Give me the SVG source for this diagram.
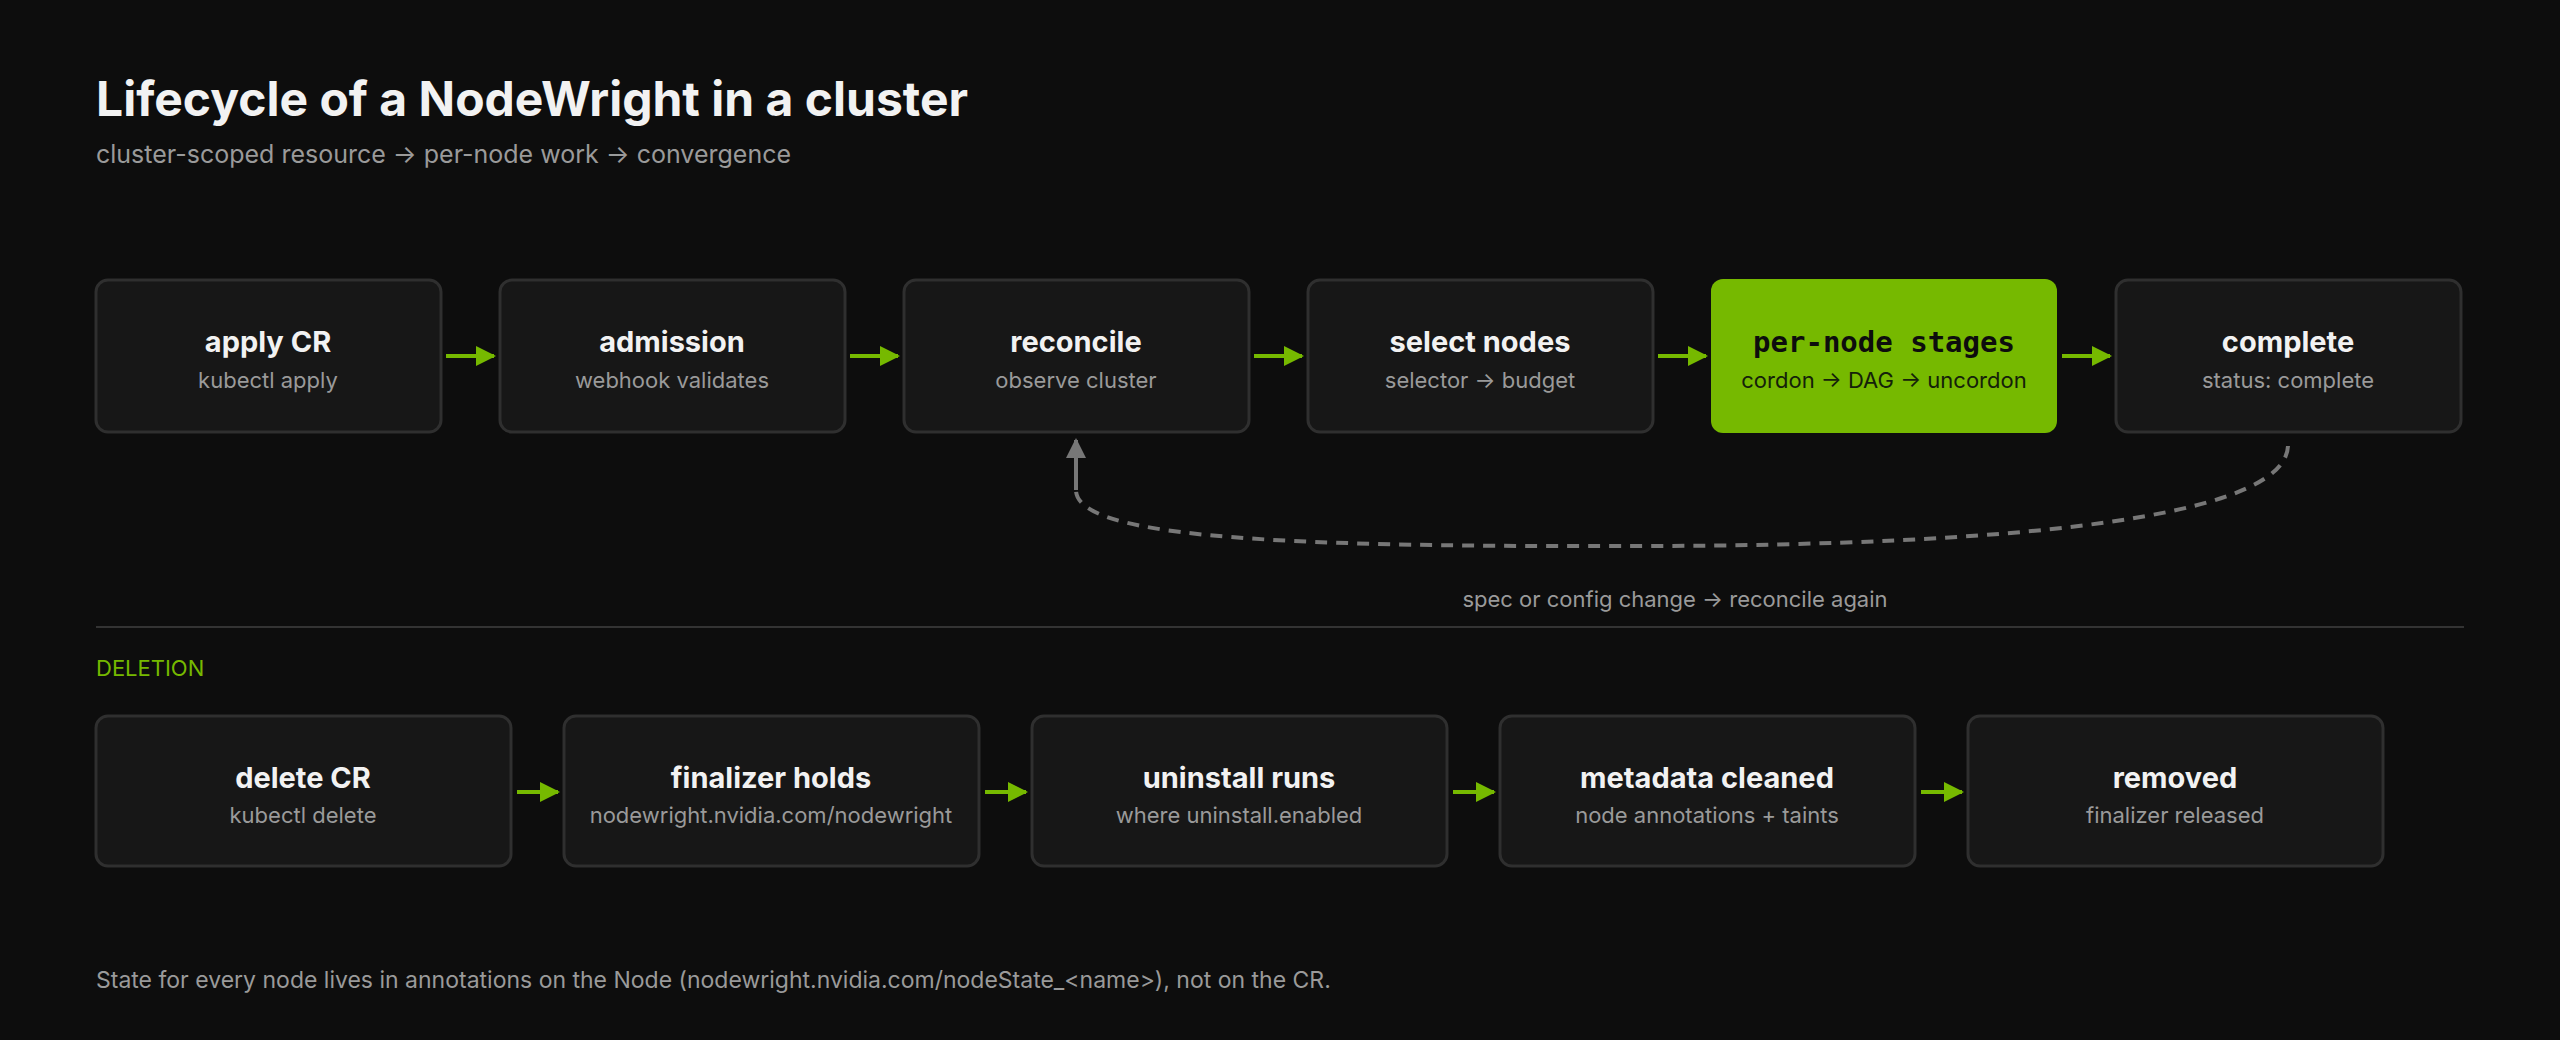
<svg xmlns="http://www.w3.org/2000/svg" width="2560" height="1040" viewBox="0 0 2560 1040">
<defs>
<style>
.box{fill:#171717;stroke:#2f2f2f;stroke-width:3}
.t{font-family:Inter,"Liberation Sans",sans-serif;font-weight:700;font-size:29px;fill:#f2f2f2;text-anchor:middle}
.s{font-family:Inter,"Liberation Sans",sans-serif;font-size:22px;fill:#9a9a9a;text-anchor:middle}
.arr{stroke:#76b900;stroke-width:4;fill:none;marker-end:url(#ga)}
</style>
<marker id="ga" viewBox="0 0 10 10" refX="9" refY="5" markerWidth="5" markerHeight="5" orient="auto" markerUnits="strokeWidth"><path d="M0,0L10,5L0,10z" fill="#76b900"/></marker>
<marker id="gr" viewBox="0 0 10 10" refX="9" refY="5" markerWidth="5" markerHeight="5" orient="auto" markerUnits="strokeWidth"><path d="M0,0L10,5L0,10z" fill="#777"/></marker>
</defs>
<rect width="2560" height="1040" fill="#0d0d0d"/>
<text x="96" y="116" font-family="Inter,'Liberation Sans',sans-serif" font-weight="700" font-size="48" fill="#f2f2f2">Lifecycle of a NodeWright in a cluster</text>
<text x="96" y="163" font-family="Inter,'Liberation Sans',sans-serif" font-size="25" fill="#9a9a9a">cluster-scoped resource → per-node work → convergence</text>
<g id="n1"><rect class="box" x="96" y="280" width="345" height="152" rx="12"/><text class="t" x="268" y="352">apply CR</text><text class="s" x="268" y="388">kubectl apply</text></g>
<g id="n2"><rect class="box" x="500" y="280" width="345" height="152" rx="12"/><text class="t" x="672" y="352">admission</text><text class="s" x="672" y="388">webhook validates</text></g>
<g id="n3"><rect class="box" x="904" y="280" width="345" height="152" rx="12"/><text class="t" x="1076" y="352">reconcile</text><text class="s" x="1076" y="388">observe cluster</text></g>
<g id="n4"><rect class="box" x="1308" y="280" width="345" height="152" rx="12"/><text class="t" x="1480" y="352">select nodes</text><text class="s" x="1480" y="388">selector → budget</text></g>
<g id="n5"><rect x="1711" y="279" width="346" height="154" rx="12" fill="#76b900"/><text x="1884" y="352" font-family="'DejaVu Sans Mono','Liberation Mono',monospace" font-weight="700" font-size="29" fill="#0d0d0d" text-anchor="middle">per-node stages</text><text class="s" x="1884" y="388" style="fill:#14210a">cordon → DAG → uncordon</text></g>
<g id="n6"><rect class="box" x="2116" y="280" width="345" height="152" rx="12"/><text class="t" x="2288" y="352">complete</text><text class="s" x="2288" y="388">status: complete</text></g>
<g id="d1"><rect class="box" x="96" y="716" width="415" height="150" rx="12"/><text class="t" x="303" y="788">delete CR</text><text class="s" x="303" y="823">kubectl delete</text></g>
<g id="d2"><rect class="box" x="564" y="716" width="415" height="150" rx="12"/><text class="t" x="771" y="788">finalizer holds</text><text class="s" x="771" y="823">nodewright.nvidia.com/nodewright</text></g>
<g id="d3"><rect class="box" x="1032" y="716" width="415" height="150" rx="12"/><text class="t" x="1239" y="788">uninstall runs</text><text class="s" x="1239" y="823">where uninstall.enabled</text></g>
<g id="d4"><rect class="box" x="1500" y="716" width="415" height="150" rx="12"/><text class="t" x="1707" y="788">metadata cleaned</text><text class="s" x="1707" y="823">node annotations + taints</text></g>
<g id="d5"><rect class="box" x="1968" y="716" width="415" height="150" rx="12"/><text class="t" x="2175" y="788">removed</text><text class="s" x="2175" y="823">finalizer released</text></g>
<g id="connectors">
<path class="arr" d="M446,356H494"/><path class="arr" d="M850,356H898"/><path class="arr" d="M1254,356H1302"/><path class="arr" d="M1658,356H1706"/><path class="arr" d="M2062,356H2110"/>
<path class="arr" d="M517,792H558"/><path class="arr" d="M985,792H1026"/><path class="arr" d="M1453,792H1494"/><path class="arr" d="M1921,792H1962"/><path class="arr" d="M2389,792H2430" style="display:none"/>
<path d="M2288,446C2285,520 2000,545 1650,546C1300,547 1076,540 1076,490" fill="none" stroke="#777" stroke-width="4" stroke-dasharray="12 9"/>
<path d="M1076,490V440" fill="none" stroke="#777" stroke-width="4" marker-end="url(#gr)"/>
</g>
<text class="s" x="1675" y="607">spec or config change → reconcile again</text>
<line x1="96" y1="627" x2="2464" y2="627" stroke="#333" stroke-width="2"/>
<text x="96" y="676" font-family="Inter,'Liberation Sans',sans-serif" font-size="22" fill="#76b900">DELETION</text>
<text x="96" y="988" font-family="Inter,'Liberation Sans',sans-serif" font-size="23" fill="#9a9a9a">State for every node lives in annotations on the Node (nodewright.nvidia.com/nodeState_&lt;name&gt;), not on the CR.</text>
</svg>
